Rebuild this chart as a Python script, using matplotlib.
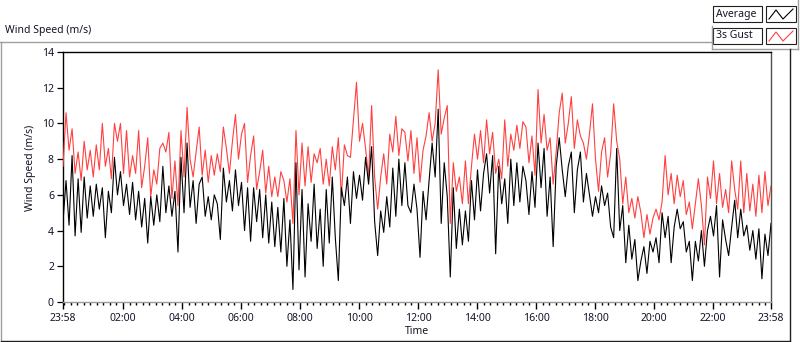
# -*- coding: utf-8 -*-
"""Wind speed over one day: 1-min average and 3s gust, LabVIEW-style chart."""

import numpy as np

import matplotlib
matplotlib.use("Agg")
import matplotlib.pyplot as plt
from matplotlib.lines import Line2D
from matplotlib import rcParams


# values, left to right (m/s)
AVERAGE = [
    4.5, 6.8, 4.3, 8.2, 3.7, 6.9, 3.9, 7.0, 4.7, 6.5, 4.8, 6.6, 5.2, 6.4, 3.6, 6.2, 5.0, 8.1, 6.0, 7.3,
    5.4, 6.6, 4.9, 6.7, 4.6, 6.2, 4.2, 5.8, 3.3, 5.9, 4.3, 6.0, 4.5, 7.6, 5.0, 6.5, 4.8, 6.2, 2.8,
    8.1, 5.0, 8.9, 5.3, 6.8, 4.4, 6.6, 7.0, 4.8, 5.9, 4.6, 6.0, 5.5, 3.5, 7.5, 5.6, 6.8, 5.1, 7.4,
    5.4, 6.7, 4.0, 6.4, 3.4, 6.4, 4.5, 6.3, 3.6, 6.0, 3.3, 5.6, 3.1, 5.3, 2.8, 5.8, 2.0, 4.6, 0.7,
    7.8, 1.8, 6.3, 1.4, 5.5, 3.4, 6.6, 3.0, 5.2, 2.0, 6.3, 3.3, 7.0, 3.6, 1.2, 6.4, 5.4, 7.0, 4.4,
    7.3, 5.8, 7.1, 5.7, 8.1, 6.6, 8.7, 4.5, 2.6, 5.1, 3.9, 5.9, 4.2, 7.5, 4.8, 8.0, 5.4, 7.8, 5.4,
    5.0, 6.6, 5.2, 2.5, 6.2, 4.6, 6.8, 8.9, 7.0, 10.8, 4.4, 7.8, 5.9, 1.4, 6.4, 3.0, 5.2, 3.2, 5.1,
    3.4, 6.8, 4.6, 7.4, 5.1, 7.2, 8.3, 6.1, 8.2, 2.7, 7.6, 5.5, 6.9, 4.4, 8.0, 5.4, 7.8, 5.6, 7.6,
    6.8, 4.9, 7.3, 5.3, 8.9, 6.4, 8.6, 4.8, 7.0, 3.1, 7.6, 9.2, 7.4, 5.9, 7.6, 8.4, 5.0, 7.4, 8.4,
    5.6, 7.2, 6.0, 4.8, 5.9, 5.0, 6.5, 5.4, 6.1, 4.2, 3.6, 8.6, 4.0, 5.4, 2.2, 4.3, 2.4, 3.5, 1.2,
    2.3, 3.1, 1.6, 3.4, 2.8, 3.6, 2.2, 5.0, 3.6, 4.8, 2.2, 4.2, 5.2, 4.1, 4.5, 2.8, 3.4, 1.2, 3.4,
    2.3, 4.0, 2.0, 4.0, 4.8, 3.7, 5.4, 1.4, 4.6, 3.5, 2.6, 4.2, 5.7, 3.6, 5.2, 3.7, 4.3, 2.9, 4.0,
    2.4, 4.1, 1.3, 3.8, 2.6, 4.4,
]
GUST = [
    7.6, 10.6, 8.5, 9.7, 7.2, 8.4, 6.8, 9.0, 7.4, 8.5, 7.0, 8.8, 7.4, 10.0, 7.6, 8.6, 6.9, 10.0, 9.0, 10.0,
    7.2, 9.6, 7.0, 8.2, 7.2, 9.6, 6.4, 7.6, 9.2, 5.9, 7.4, 6.6, 8.6, 8.9, 8.4, 9.5, 5.8, 7.9, 5.4,
    9.6, 7.0, 10.9, 8.0, 7.0, 8.4, 9.8, 7.1, 8.5, 6.7, 8.2, 7.1, 8.3, 7.3, 9.8, 8.6, 7.2, 9.0, 10.5,
    8.0, 9.4, 10.0, 6.7, 8.2, 9.3, 6.3, 7.3, 8.5, 6.1, 7.6, 5.9, 7.0, 5.9, 7.3, 6.8, 5.6, 6.9, 4.4,
    9.6, 6.0, 8.9, 6.5, 8.7, 6.7, 8.3, 7.8, 8.6, 6.6, 8.0, 6.5, 8.7, 7.4, 9.2, 5.9, 8.8, 8.2, 8.1,
    10.2, 12.3, 9.0, 10.0, 8.6, 7.0, 11.0, 7.0, 5.2, 7.0, 8.3, 6.6, 9.4, 8.4, 10.4, 8.2, 9.7, 9.5, 7.9,
    9.6, 7.2, 9.2, 6.7, 8.5, 9.3, 10.6, 9.0, 10.0, 13.0, 9.4, 10.3, 11.0, 4.4, 7.8, 6.2, 7.0, 5.5, 7.9,
    5.5, 7.6, 9.4, 8.0, 9.6, 7.8, 10.2, 8.3, 9.5, 7.2, 8.0, 6.9, 10.2, 7.6, 9.4, 8.5, 9.9, 8.6, 10.1,
    9.8, 7.8, 9.3, 7.1, 11.9, 8.9, 10.5, 8.5, 9.2, 6.6, 8.4, 10.6, 11.7, 8.9, 10.0, 11.5, 8.6, 10.2, 9.3,
    8.9, 8.0, 9.4, 11.1, 8.0, 6.2, 8.4, 9.2, 7.0, 8.3, 11.1, 9.0, 8.0, 5.5, 7.0, 5.0, 5.8, 4.7, 5.9,
    5.0, 3.6, 4.9, 3.8, 4.7, 5.2, 4.6, 5.6, 8.2, 6.0, 7.2, 5.5, 7.1, 5.9, 6.8, 4.9, 5.6, 4.1, 5.5,
    6.9, 5.4, 3.2, 7.0, 5.8, 7.9, 5.5, 7.2, 5.3, 6.3, 5.0, 7.9, 6.3, 5.2, 7.9, 5.0, 7.2, 5.1, 6.6,
    4.8, 7.1, 5.0, 7.3, 5.4, 6.5,
]

# time axis in minutes after 23:58
DAY_MINUTES = 1440
TICK_MINUTES = [0, 122, 242, 362, 482, 602, 722, 842, 962, 1082, 1202, 1322, 1440]
TICK_LABELS = ["23:58", "02:00", "04:00", "06:00", "08:00", "10:00", "12:00",
               "14:00", "16:00", "18:00", "20:00", "22:00", "23:58"]
Y_TICKS = [0, 2, 4, 6, 8, 10, 12, 14]

W, H = 800, 342
TEXT = "#14142a"
GUST_RED = "#ff4040"


def px(x, y):
    """figure pixel (from top-left) -> figure fraction"""
    return x / W, 1 - y / H


def configure():
    rcParams["font.family"] = ["Noto Sans", "DejaVu Sans"]
    rcParams["font.size"] = 7.5
    rcParams["xtick.direction"] = "out"
    rcParams["ytick.direction"] = "out"


def frame_line(fig, p0, p1, color, lw=1.0):
    (x0, y0), (x1, y1) = px(*p0), px(*p1)
    fig.add_artist(Line2D([x0, x1], [y0, y1], color=color, lw=lw,
                          transform=fig.transFigure))


def legend_entry(fig, label, y_top, color):
    x0, y0 = px(713, y_top + 16)
    x1, y1 = px(762, y_top)
    fig.add_artist(plt.Rectangle((x0, y0), x1 - x0, y1 - y0, transform=fig.transFigure,
                                 facecolor="white", edgecolor="#202020", lw=0.8))
    fig.text(*px(716, y_top + 8), label, ha="left", va="center", fontsize=7.5, color=TEXT)
    sx0, sy0 = px(766, y_top + 16)
    sx1, sy1 = px(796, y_top)
    fig.add_artist(plt.Rectangle((sx0, sy0), sx1 - sx0, sy1 - sy0, transform=fig.transFigure,
                                 facecolor="white", edgecolor="#202020", lw=0.8))
    zx = [769, 776, 783, 793]
    zy = [y_top + 13, y_top + 4, y_top + 13, y_top + 3]
    pts = [px(a, b) for a, b in zip(zx, zy)]
    fig.add_artist(Line2D([p[0] for p in pts], [p[1] for p in pts], color=color, lw=0.8,
                          transform=fig.transFigure))


def draw(out="out.png"):
    configure()
    fig = plt.figure(figsize=(W / 100, H / 100), dpi=100)
    ax = fig.add_axes([63 / W, (H - 302) / H, 708 / W, 250 / H])

    t_avg = np.linspace(0, DAY_MINUTES, len(AVERAGE))
    t_gust = np.linspace(0, DAY_MINUTES, len(GUST))
    ax.plot(t_gust, GUST, color=GUST_RED, lw=0.8, zorder=3)
    ax.plot(t_avg, AVERAGE, color="black", lw=0.8, zorder=4)

    ax.set_xlim(0, DAY_MINUTES)
    ax.set_ylim(0, 14)
    ax.set_xticks(TICK_MINUTES)
    ax.set_xticklabels(TICK_LABELS)
    minor = np.arange(TICK_MINUTES[1] % (120 / 9), DAY_MINUTES + 0.1, 120 / 9)
    ax.set_xticks(minor, minor=True)
    ax.set_yticks(Y_TICKS)
    ax.tick_params(axis="x", length=5, width=1.0, pad=3, colors="black", labelcolor=TEXT,
                   labelsize=7.5)
    ax.tick_params(axis="x", which="minor", length=2.5, width=1.0, colors="black")
    ax.tick_params(axis="y", length=4.5, width=0.9, pad=2, colors="black", labelcolor=TEXT,
                   labelsize=7.5)
    ax.spines["left"].set_color("black")
    ax.spines["top"].set_color("black")
    ax.spines["bottom"].set_color("#9a9a9a")
    ax.spines["right"].set_color("#505050")
    for s in ax.spines.values():
        s.set_linewidth(1.0)

    ax.set_xlabel("Time", fontsize=7.5, color=TEXT, labelpad=1)
    fig.text(*px(31, 168), "Wind Speed (m/s)", rotation=90, ha="center", va="center",
             fontsize=7.5, color=TEXT)
    fig.text(*px(5, 31), "Wind Speed (m/s)", ha="left", va="center", fontsize=7.5, color=TEXT)

    # outer panel and legend frame
    frame_line(fig, (0, 42), (712, 42), "#a0a0a0")
    frame_line(fig, (1, 42), (1, 341), "#a0a0a0")
    frame_line(fig, (712, 26), (712, 49), "#a0a0a0")
    frame_line(fig, (712, 49), (798, 49), "#a0a0a0")
    frame_line(fig, (798, 0), (798, 49), "#a0a0a0")
    frame_line(fig, (1, 341), (790, 341), "#202020")
    frame_line(fig, (790, 49), (790, 341), "#202020")

    legend_entry(fig, "Average", 6, "black")
    legend_entry(fig, "3s Gust", 28, GUST_RED)

    fig.savefig(out, dpi=100, facecolor="white")
    plt.close(fig)


def main():
    draw()


if __name__ == "__main__":
    main()
